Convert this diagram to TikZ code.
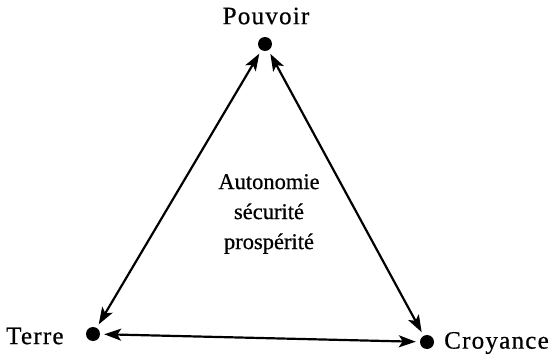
\documentclass[tikz,border=0pt]{standalone}
\usepackage{fontspec}
\setmainfont{Liberation Serif}[FakeBold=0.6]
\usetikzlibrary{arrows.meta}
\begin{document}
\begin{tikzpicture}[x=1pt,y=-1pt,
  dot/.style={circle,fill=black,inner sep=0pt,minimum size=14pt},
  lbl/.style={font=\fontsize{22.5}{27}\selectfont,inner sep=0pt},
  vlbl/.style={font=\fontsize{25}{28}\selectfont\addfontfeature{LetterSpace=5},inner sep=0pt},
  link/.style={line width=2.2pt,{Stealth[length=17pt,width=12pt,inset=4pt]}-{Stealth[length=17pt,width=12pt,inset=4pt]},shorten <=4pt,shorten >=4pt}]
\useasboundingbox (0,0) rectangle (555,356);
\node[dot] (p) at (265,44) {};
\node[dot] (t) at (93,334) {};
\node[dot] (c) at (427,342) {};
\node[vlbl,anchor=center] (lp) at (266,16) {Pouvoir};
\node[vlbl,anchor=west] (lt) at (6,336) {Terre};
\node[vlbl,anchor=west] (lc) at (444,343) {Croyance};
\node[lbl,align=center] (m) at (269,214) {Autonomie\\[3pt]sécurité\\[3pt]prospérité};
\draw[link] (p) -- (t);
\draw[link] (p) -- (c);
\draw[link] (t) -- (c);
\end{tikzpicture}
\end{document}
